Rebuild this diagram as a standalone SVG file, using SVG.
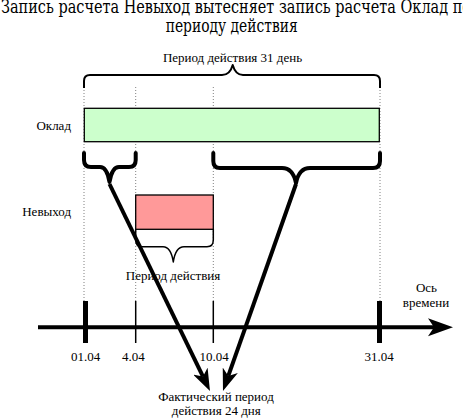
<svg xmlns="http://www.w3.org/2000/svg" width="463" height="419" viewBox="0 0 463 419">
<defs>
<style>
text{fill:#000}
.t{font-size:18px;font-family:"DejaVu Serif",serif}
.s{font-size:13px}
.dot{stroke:#808080;stroke-width:1;stroke-dasharray:1,2;fill:none}
.brace{fill:none;stroke:#000;stroke-width:2;stroke-linejoin:round}
.bthick{fill:none;stroke:#000;stroke-width:4;stroke-linejoin:round;stroke-linecap:round}
.conn{stroke:#000;stroke-width:4;fill:none}
</style>
<marker id="ah" markerUnits="userSpaceOnUse" viewBox="0 0 22 16" markerWidth="22" markerHeight="16" refX="6" refY="8" orient="auto">
<path d="M0,0 L22,8 L0,16 L6,8 Z" fill="#000"/>
</marker>
</defs>
<rect width="463" height="419" fill="#fff"/>
<g font-family="'Liberation Serif', 'Times New Roman', serif">
<g id="title">
<text class="t" x="1" y="13" textLength="470" lengthAdjust="spacingAndGlyphs">Запись расчета Невыход вытесняет запись расчета Оклад по</text>
<text class="t" x="231.7" y="32" text-anchor="middle" textLength="132" lengthAdjust="spacingAndGlyphs">периоду действия</text>
</g>
<g id="gridlines">
<line class="dot" x1="84" y1="87" x2="84" y2="301"/>
<line class="dot" x1="135.7" y1="87" x2="135.7" y2="301"/>
<line class="dot" x1="213.3" y1="87" x2="213.3" y2="301"/>
<line class="dot" x1="380" y1="87" x2="380" y2="301"/>
</g>
<g id="period31">
<path class="brace" d="M84,88 V81 Q84,75 90,75 H222 Q230,75 232.7,65 Q235.5,75 243,75 H374 Q380,75 380,81 V88"/>
<text class="s" x="232.5" y="62" text-anchor="middle">Период действия 31 день</text>
</g>
<g id="oklad">
<text class="s" x="71" y="129.5" text-anchor="end">Оклад</text>
<rect x="84.3" y="108.3" width="295" height="33.4" fill="#CCFFCC" stroke="#000" stroke-width="1.3"/>
</g>
<g id="brace-left">
<path class="bthick" d="M84,153 V160 Q84,167 91,167 H100 Q107,167 109.5,182 Q112,167 119,167 H129 Q135.7,167 135.7,160 V153"/>
</g>
<g id="brace-right">
<path class="bthick" d="M213.3,153 V161 Q213.3,168 220,168 H282 Q293,168 296,183 Q299,168 310,168 H373 Q380,168 380,161 V153"/>
</g>
<g id="nevyhod">
<text class="s" x="71" y="216" text-anchor="end">Невыход</text>
<rect x="135.7" y="195" width="77.6" height="34.3" fill="#FF9999" stroke="#000" stroke-width="1.3"/>
</g>
<g id="period-nevyhod">
<path class="brace" d="M135.7,229 V240 Q135.7,246.7 142,246.7 H163 Q171,246.7 173.3,262 Q175.5,246.7 184,246.7 H207 Q213.3,246.7 213.3,240 V229" style="stroke-width:1.5"/>
<text class="s" x="173" y="279.5" text-anchor="middle">Период действия</text>
</g>
<g id="axis">
<line x1="38" y1="327.3" x2="436" y2="327.3" stroke="#000" stroke-width="4"/>
<path d="M453,327.3 L428,318.3 L434,327.3 L428,336.3 Z" fill="#000"/>
<rect x="83" y="301" width="5" height="42" fill="#000"/>
<rect x="377" y="301" width="5" height="42" fill="#000"/>
<line x1="135.7" y1="301" x2="135.7" y2="343" stroke="#000" stroke-width="1.5"/>
<line x1="213.3" y1="301" x2="213.3" y2="343" stroke="#000" stroke-width="1.5"/>
<text class="s" x="426.5" y="292" text-anchor="middle">Ось</text>
<text class="s" x="426" y="306.5" text-anchor="middle">времени</text>
<text class="s" x="85.5" y="360.5" text-anchor="middle">01.04</text>
<text class="s" x="133.3" y="360.5" text-anchor="middle">4.04</text>
<text class="s" x="214" y="360.5" text-anchor="middle">10.04</text>
<text class="s" x="379" y="360.5" text-anchor="middle">31.04</text>
</g>
<g id="result">
<text class="s" x="216" y="401" text-anchor="middle">Фактический период</text>
<text class="s" x="216.3" y="415" text-anchor="middle">действия 24 дня</text>
</g>
</g>
<g id="connectors">
<line class="conn" x1="109.5" y1="184" x2="203" y2="376.6" marker-end="url(#ah)"/>
<line class="conn" x1="296" y1="184" x2="228.3" y2="375.9" marker-end="url(#ah)"/>
</g>
</svg>
